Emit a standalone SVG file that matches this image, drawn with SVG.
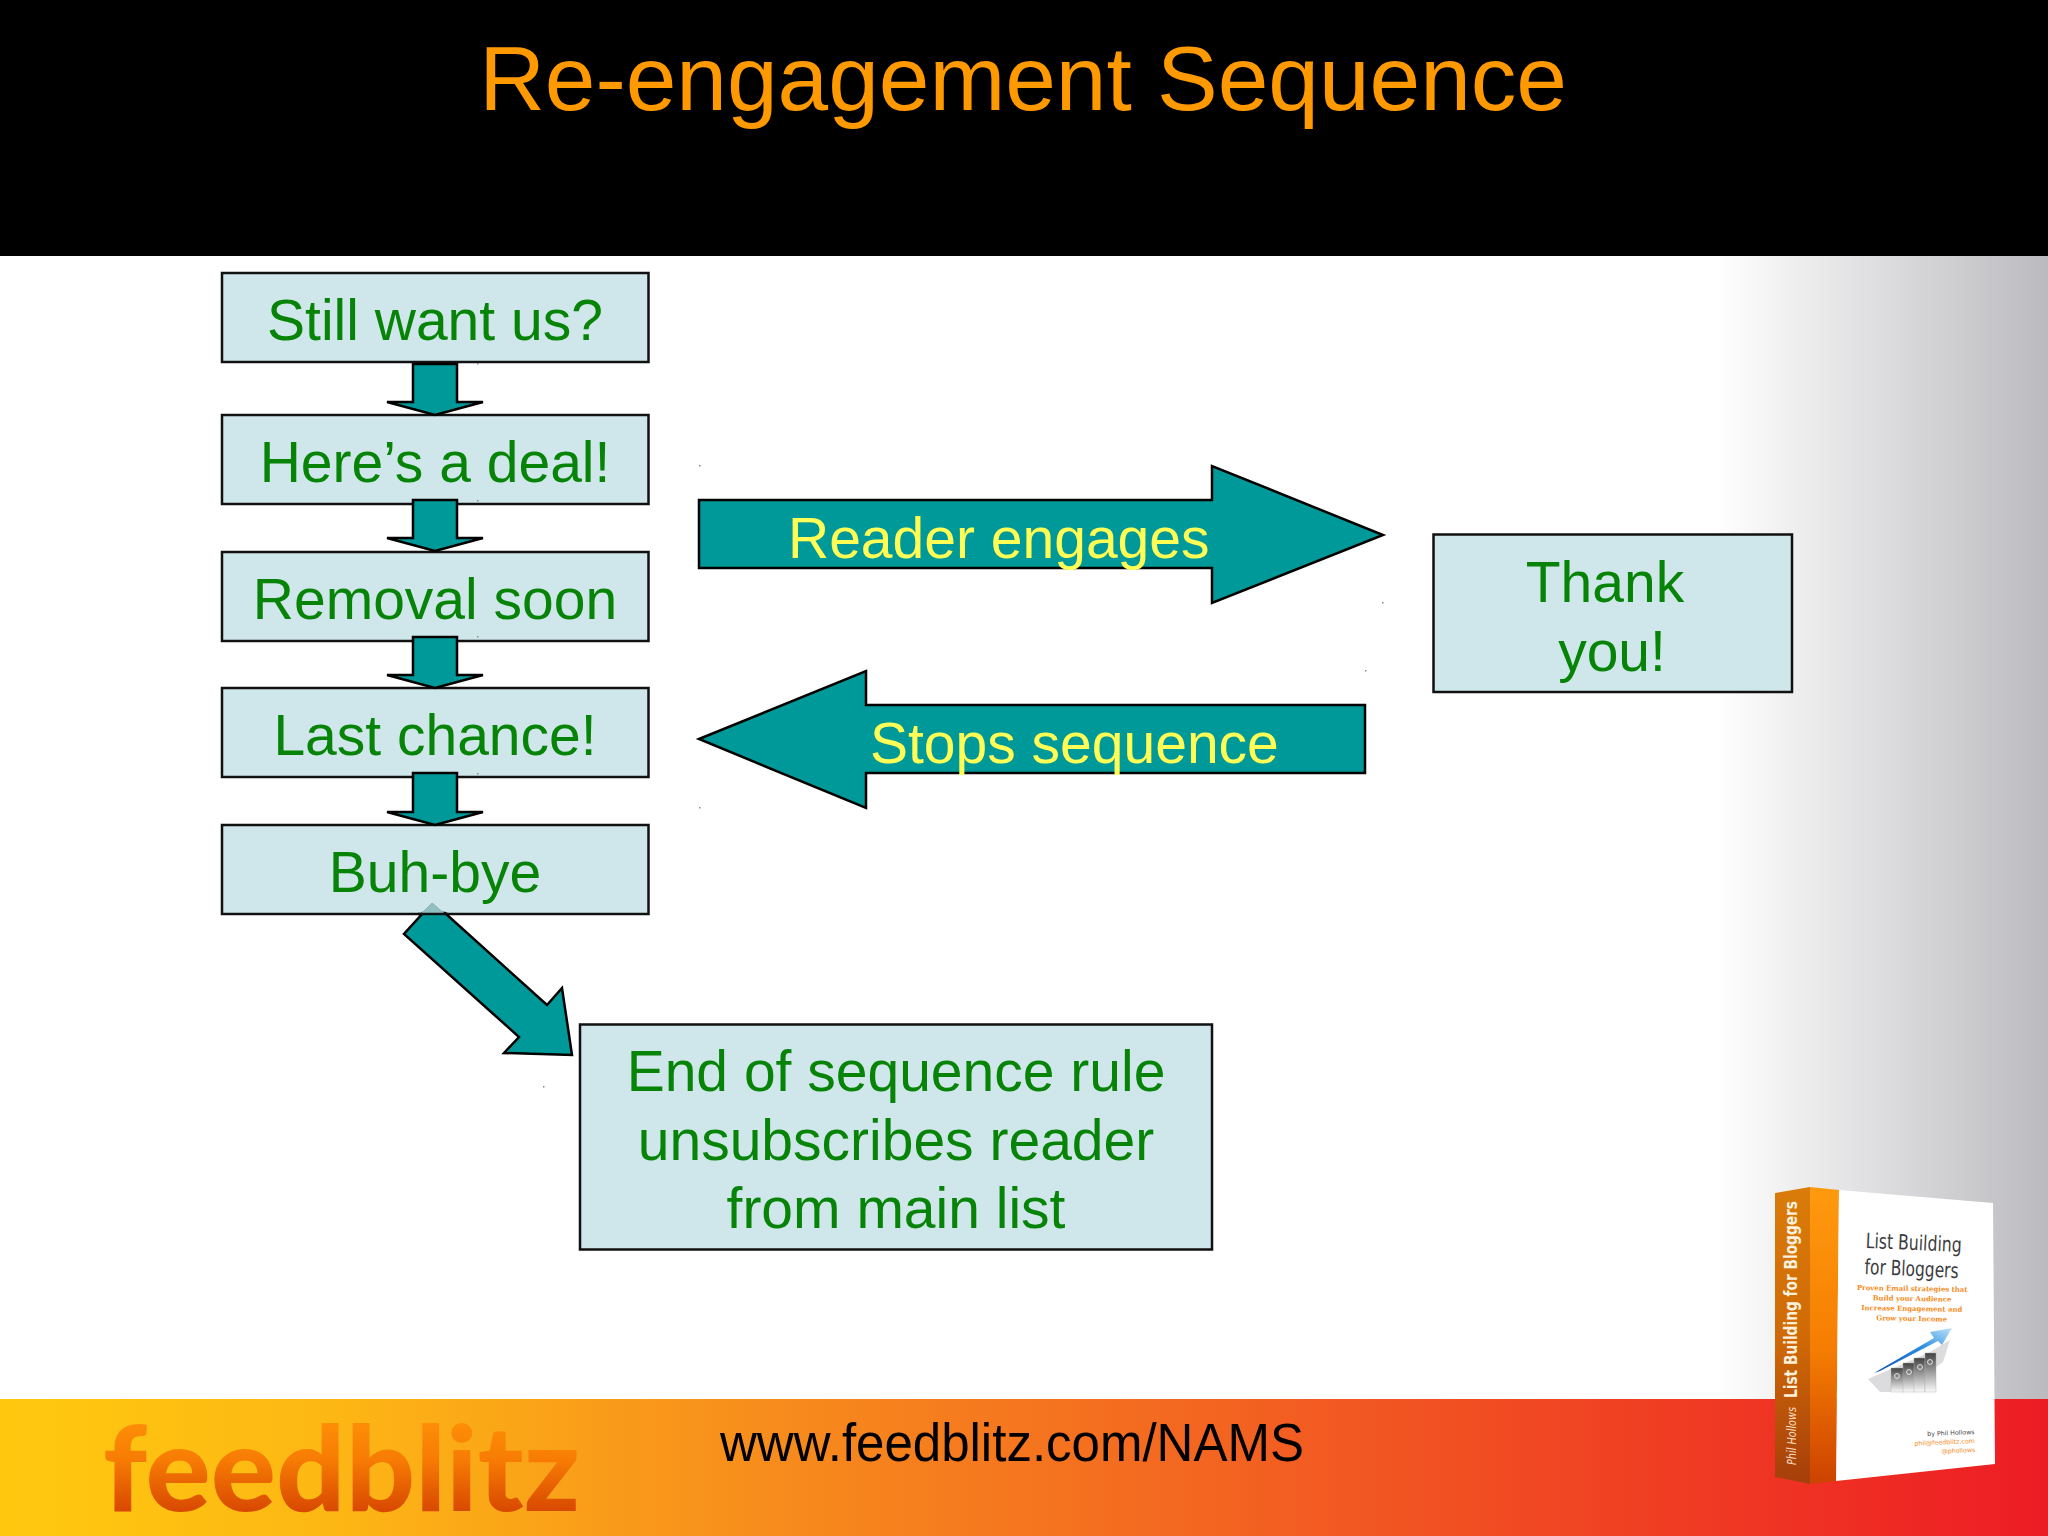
<svg xmlns="http://www.w3.org/2000/svg" width="2048" height="1536" viewBox="0 0 2048 1536">
<style>
.box{fill:#cfe7ea;stroke:#111;stroke-width:2.5}
.lbl{font-family:"Liberation Sans",Arial,sans-serif;font-size:57px;fill:#078407;text-anchor:middle}
.arrow{fill:#009999;stroke:#000;stroke-width:2.5;stroke-linejoin:miter}
.yl{font-family:"Liberation Sans",Arial,sans-serif;font-size:57px;fill:#ffff55}
.speck{fill:#8a8a8a}
.sl{font-family:"DejaVu Serif",serif;font-weight:bold;font-size:6.9px;fill:#f58a20;text-anchor:middle}
.ct{font-family:"DejaVu Sans",sans-serif;font-size:21px;fill:#3c3c40}
.bar{fill:url(#barG);stroke:#aaa;stroke-width:.4}
</style>
<defs>
<linearGradient id="bg" gradientUnits="userSpaceOnUse" x1="1716" y1="0" x2="2048" y2="0"><stop offset="0" stop-color="#fff"/><stop offset="1" stop-color="#bbbbbf"/></linearGradient>
<linearGradient id="band" gradientUnits="userSpaceOnUse" x1="0" y1="0" x2="2048" y2="0"><stop offset="0" stop-color="#ffc90e"/><stop offset=".16" stop-color="#fdb714"/><stop offset=".34" stop-color="#f8931b"/><stop offset=".65" stop-color="#f25a22"/><stop offset="1" stop-color="#ed1c24"/></linearGradient>
<linearGradient id="logo" gradientUnits="userSpaceOnUse" x1="0" y1="1416" x2="0" y2="1512"><stop offset="0" stop-color="#ff9208"/><stop offset=".45" stop-color="#f77c04"/><stop offset="1" stop-color="#d84800"/></linearGradient>
<linearGradient id="sp1" x1="0" y1="0" x2="0" y2="1"><stop offset="0" stop-color="#d97c0a"/><stop offset=".5" stop-color="#d06a06"/><stop offset="1" stop-color="#a53e0a"/></linearGradient>
<linearGradient id="sp2" x1="0" y1="0" x2="0" y2="1"><stop offset="0" stop-color="#ff9a0e"/><stop offset=".55" stop-color="#f57d02"/><stop offset="1" stop-color="#cc4200"/></linearGradient>
<linearGradient id="barG" x1="0" y1="0" x2="0" y2="1"><stop offset="0" stop-color="#444"/><stop offset="1" stop-color="#fafafa"/></linearGradient>
<linearGradient id="blue" x1="0" y1="1" x2="1" y2="0"><stop offset="0" stop-color="#0a4fb0"/><stop offset=".6" stop-color="#2b8fe0"/><stop offset="1" stop-color="#bfe4fa"/></linearGradient>
</defs>

<g id="background">
<rect width="2048" height="1536" fill="#fff"/>
<rect x="1716" y="256" width="332" height="1143" fill="url(#bg)"/>
<rect width="2048" height="256" fill="#000"/>
<rect y="1399" width="2048" height="137" fill="url(#band)"/>
</g>

<text id="title" x="1023" y="110" font-family="'Liberation Sans',Arial,sans-serif" font-size="91" fill="#ff9900" text-anchor="middle">Re-engagement Sequence</text>

<g id="node-still"><rect class="box" x="222" y="273" width="426.500" height="89"/><text class="lbl" x="435" y="340">Still want us?</text></g>
<g id="node-deal"><rect class="box" x="222" y="415" width="426.500" height="89"/><text class="lbl" x="435" y="482">Here’s a deal!</text></g>
<g id="node-removal"><rect class="box" x="222" y="552" width="426.500" height="89"/><text class="lbl" x="435" y="619">Removal soon</text></g>
<g id="node-last"><rect class="box" x="222" y="688" width="426.500" height="89"/><text class="lbl" x="435" y="755">Last chance!</text></g>
<g id="node-bye"><rect class="box" x="222" y="825" width="426.500" height="89"/><text class="lbl" x="435" y="892">Buh-bye</text></g>
<g id="node-thanks"><rect class="box" x="1433.500" y="534.500" width="358.500" height="157.500"/><text class="lbl" x="1605" y="602">Thank</text><text class="lbl" x="1612" y="671">you!</text></g>
<g id="node-end"><rect class="box" x="580" y="1024.500" width="632" height="225"/><text class="lbl" x="896" y="1091">End of sequence rule</text><text class="lbl" x="896" y="1160">unsubscribes reader</text><text class="lbl" x="896" y="1228">from main list</text></g>

<g id="connectors">
<polygon class="arrow" points="413,364 457,364 457,402 483,402 435,415 387,402 413,402"/>
<polygon class="arrow" points="413,500 457,500 457,538 483,538 435,551 387,538 413,538"/>
<polygon class="arrow" points="413,637 457,637 457,675 483,675 435,688 387,675 413,675"/>
<polygon class="arrow" points="413,773 457,773 457,812 483,812 435,825 387,812 413,812"/>
<polygon class="arrow" points="423,913 404,934 519,1037 504,1053 572,1055 562,988 547,1005 445,913"/>
<polygon points="432,903 421,914 445,914" fill="#8fc0c4" stroke="#8fb0b4" stroke-width="1"/>
<line x1="418" y1="914" x2="448" y2="914" stroke="#111" stroke-width="2.500"/>
<polygon class="arrow" points="699,500 1212,500 1212,466 1383,535 1212,603 1212,568 699,568"/>
<polygon class="arrow" points="699,739 866,671 866,705 1365,705 1365,773 866,773 866,808"/>
</g>

<text id="label-engages" class="yl" x="788" y="558">Reader engages</text>
<text id="label-stops" class="yl" x="870" y="763">Stops sequence</text>

<g id="specks">
<rect class="speck" x="477" y="363" width="1.500" height="1.500"/><rect class="speck" x="477" y="500" width="1.500" height="1.500"/>
<rect class="speck" x="477" y="636" width="1.500" height="1.500"/><rect class="speck" x="477" y="773" width="1.500" height="1.500"/>
<rect class="speck" x="699" y="465" width="1.500" height="1.500"/><rect class="speck" x="1382" y="602" width="1.500" height="1.500"/>
<rect class="speck" x="1365" y="670" width="1.500" height="1.500"/><rect class="speck" x="699" y="807" width="1.500" height="1.500"/>
<rect class="speck" x="543" y="1086" width="1.500" height="1.500"/>
</g>

<g id="footer">
<text x="720" y="1461" font-family="'Liberation Sans',Arial,sans-serif" font-size="53" fill="#000" textLength="584" lengthAdjust="spacingAndGlyphs">www.feedblitz.com/NAMS</text>
<text x="103" y="1511" font-family="Lato,Inter,sans-serif" font-weight="900" font-size="118" fill="url(#logo)" textLength="477" lengthAdjust="spacingAndGlyphs">feedblitz</text>
</g>

<g id="book">
<polygon points="1775,1193 1810,1187 1810,1484 1775,1477" fill="url(#sp1)"/>
<polygon points="1810,1187 1839,1190 1836,1481 1810,1484" fill="url(#sp2)"/>
<polygon points="1839,1190 1993,1203 1995,1464 1836,1481" fill="#fff"/>
<text transform="translate(1797,1398) rotate(-90)" font-family="'DejaVu Sans',sans-serif" font-size="18" font-weight="bold" fill="#fdf0dc" textLength="197" lengthAdjust="spacingAndGlyphs">List Building for Bloggers</text>
<text transform="translate(1796,1465) rotate(-90)" font-family="'DejaVu Sans',sans-serif" font-size="12.500" font-style="italic" fill="#f8dcc0" textLength="58" lengthAdjust="spacingAndGlyphs">Phil Hollows</text>
<g transform="rotate(2.500 1913 1260)">
<text class="ct" x="1865" y="1250" textLength="96" lengthAdjust="spacingAndGlyphs">List Building</text>
<text class="ct" x="1865" y="1276" textLength="94" lengthAdjust="spacingAndGlyphs">for Bloggers</text>
</g>
<g transform="rotate(1 1913 1300)">
<text class="sl" x="1912" y="1291">Proven Email strategies that</text>
<text class="sl" x="1912" y="1301">Build your Audience</text>
<text class="sl" x="1912" y="1311">Increase Engagement and</text>
<text class="sl" x="1912" y="1321">Grow your Income</text>
</g>
<polygon points="1868,1379 1930,1352 1950,1340 1943,1362 1902,1392 1880,1392" fill="#dcdcde"/>
<polygon points="1874,1373 1934,1338 1930,1332 1952,1328 1942,1345 1938,1341 1880,1371" fill="url(#blue)"/>
<rect class="bar" x="1891" y="1368" width="13" height="24"/>
<rect class="bar" x="1903" y="1363" width="12" height="29"/>
<rect class="bar" x="1914" y="1358" width="11" height="34"/>
<rect class="bar" x="1925" y="1353" width="11" height="39"/>
<g fill="none" stroke="#e8e8e8" stroke-width="1"><circle cx="1897" cy="1376" r="2.400"/><circle cx="1909" cy="1372" r="2.400"/><circle cx="1920" cy="1367" r="2.400"/><circle cx="1930" cy="1362" r="2.400"/></g>
<g transform="rotate(-2.500 1975 1443)" font-family="'DejaVu Sans',sans-serif" font-size="6.300" text-anchor="end">
<text x="1975" y="1434" fill="#444">by Phil Hollows</text>
<text x="1975" y="1443" fill="#f58a20">phil@feedblitz.com</text>
<text x="1975" y="1452" fill="#f58a20">@phollows</text>
</g>
</g>
</svg>
